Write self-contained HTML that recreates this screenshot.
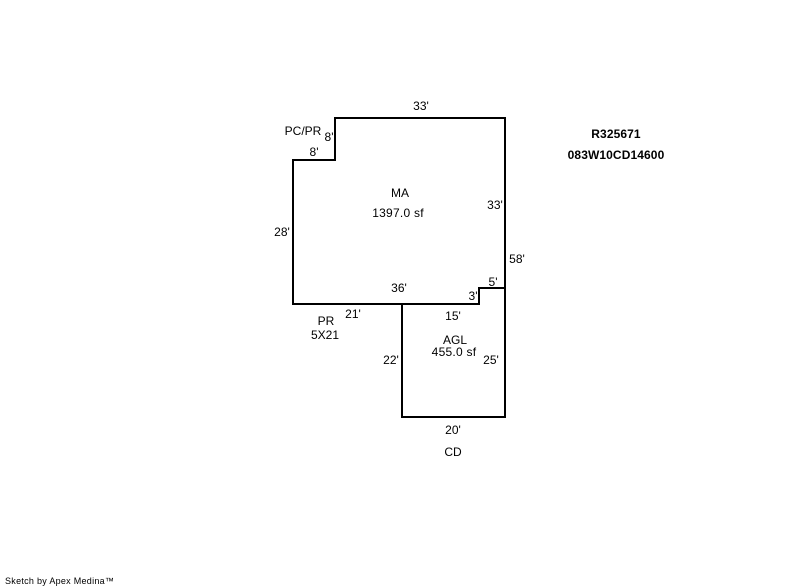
<!DOCTYPE html>
<html>
<head>
<meta charset="utf-8">
<style>
html,body{margin:0;padding:0;background:#fff;width:800px;height:587px;overflow:hidden}
svg{display:block}
text{font-family:"Liberation Sans",Arial,sans-serif;font-size:12px;fill:#000;text-anchor:middle}
.b{font-weight:bold;letter-spacing:.1px}
.w{letter-spacing:.25px}
.s{font-size:9px;text-anchor:start;letter-spacing:.28px}
</style>
</head>
<body>
<svg width="800" height="587" viewBox="0 0 800 587" xmlns="http://www.w3.org/2000/svg">
<g fill="none" stroke="#000" stroke-width="2" stroke-linecap="square" stroke-linejoin="miter" shape-rendering="crispEdges">
<path d="M293 304V160H335V118H505V417H402V304"/>
<path d="M293 304H479V288H505"/>
</g>
<text x="421" y="110">33'</text>
<text x="303" y="135">PC/PR</text>
<text x="329" y="141">8'</text>
<text x="314" y="156">8'</text>
<text x="400" y="197">MA</text>
<text class="w" x="398" y="217">1397.0 sf</text>
<text x="495" y="209">33'</text>
<text x="282" y="236">28'</text>
<text x="517" y="263">58'</text>
<text x="399" y="292">36'</text>
<text x="493" y="286">5'</text>
<text x="473" y="300">3'</text>
<text x="353" y="318">21'</text>
<text x="453" y="320">15'</text>
<text x="326" y="325">PR</text>
<text x="325" y="339">5X21</text>
<text x="455" y="344">AGL</text>
<text class="w" x="454" y="356">455.0 sf</text>
<text x="391" y="364">22'</text>
<text x="491" y="364">25'</text>
<text x="453" y="434">20'</text>
<text x="453" y="456">CD</text>
<text class="b" x="616" y="138">R325671</text>
<text class="b" x="616" y="159">083W10CD14600</text>
<text class="s" x="5" y="584">Sketch by Apex Medina™</text>
</svg>
</body>
</html>
